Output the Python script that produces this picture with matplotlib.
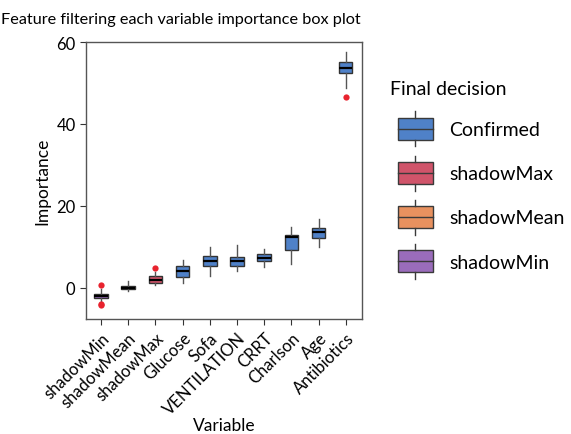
import matplotlib
matplotlib.use('Agg')
import matplotlib.pyplot as plt
from matplotlib.legend_handler import HandlerBase
from matplotlib import patches
from matplotlib.lines import Line2D

plt.rcParams['font.family'] = ['Lato', 'DejaVu Sans']

## data
variables = ['shadowMin', 'shadowMean', 'shadowMax', 'Glucose', 'Sofa',
             'VENTILATION', 'CRRT', 'Charlson', 'Age', 'Antibiotics']
decision = ['shadowMin', 'shadowMean', 'shadowMax', 'Confirmed', 'Confirmed',
            'Confirmed', 'Confirmed', 'Confirmed', 'Confirmed', 'Confirmed']
whislo = [-3.4, -0.7, 0.8, 1.1, 2.9, 4.1, 5.0, 5.9, 10.0, 48.7]
q1 = [-2.4, -0.4, 1.3, 2.6, 5.4, 5.4, 6.6, 9.2, 12.2, 52.4]
med = [-1.9, 0.05, 2.0, 4.1, 6.5, 6.5, 7.4, 12.4, 13.7, 53.6]
q3 = [-1.4, 0.55, 2.85, 5.4, 7.7, 7.45, 8.3, 12.9, 14.6, 55.2]
whishi = [-0.2, 1.7, 3.9, 6.9, 10.0, 10.5, 9.4, 14.9, 16.8, 57.5]
outliers = [[0.8, -3.9, -4.3], [], [4.8], [], [], [], [], [], [], [46.6]]

legend_order = ['Confirmed', 'shadowMax', 'shadowMean', 'shadowMin']
colors = {'Confirmed': '#4f81c8', 'shadowMax': '#d0546a',
          'shadowMean': '#e8915f', 'shadowMin': '#9a6cbb'}


## legend glyph: a little box with median line and whiskers
class BoxHandler(HandlerBase):
    def create_artists(self, legend, orig, xd, yd, w, h, fontsize, trans):
        c = orig.get_facecolor()
        bw = fontsize * 1.8
        x0 = -xd + w - bw
        yc = fontsize * 0.33
        total = fontsize * 1.8
        bh = total * 0.63
        y0 = yc - bh / 2
        rect = patches.Rectangle((x0, y0), bw, bh, facecolor=c,
                                 edgecolor='#3a3a3a', lw=1.0, transform=trans)
        mid = Line2D([x0, x0 + bw], [yc] * 2, color='#3a3a3a', lw=1.0, transform=trans)
        wt = Line2D([x0 + bw / 2] * 2, [y0 + bh, yc + total / 2], color='#3a3a3a', lw=1.0, transform=trans)
        wb = Line2D([x0 + bw / 2] * 2, [yc - total / 2, y0], color='#3a3a3a', lw=1.0, transform=trans)
        return [rect, mid, wt, wb]


fig = plt.figure(figsize=(5.71, 4.35), dpi=100)
ax = fig.add_axes([0.1506, 0.2644, 0.4834, 0.6366])

stats = []
for i in range(len(variables)):
    stats.append(dict(med=med[i], q1=q1[i], q3=q3[i], whislo=whislo[i],
                      whishi=whishi[i], fliers=outliers[i], label=variables[i]))

bp = ax.bxp(stats, positions=range(len(variables)), widths=0.5, patch_artist=True,
            boxprops=dict(edgecolor='#333333', linewidth=1.0),
            medianprops=dict(color='black', linewidth=1.6),
            whiskerprops=dict(color='#555555', linewidth=1.0),
            capprops=dict(linewidth=0),
            flierprops=dict(marker='o', markerfacecolor='#e8232e', markeredgecolor='none',
                            markersize=4.5))
for box, d in zip(bp['boxes'], decision):
    box.set_facecolor(colors[d])

ax.set_xlim(-0.55, 9.6)
ax.set_ylim(-7.6, 60)
ax.set_yticks([0, 20, 40, 60])
ax.set_xticks(range(len(variables)))
ax.set_xticklabels(variables, rotation=45, ha='right', rotation_mode='anchor')
ax.tick_params(labelsize=12, length=4, color='#333333', labelcolor='black')
for s in ax.spines.values():
    s.set_color('#555555')
    s.set_linewidth(1.0)
ax.set_ylabel('Importance', fontsize=12.5)
ax.set_xlabel('Variable', fontsize=12.5, labelpad=0)
ax.xaxis.set_label_coords(0.5, -0.355)

fig.text(0.002, 0.955, 'Feature filtering each variable importance box plot',
         fontsize=11.7, va='center', ha='left')

handles = [patches.Patch(facecolor=colors[k], label=k) for k in legend_order]
leg = fig.legend(handles=handles, title='Final decision', loc='upper left',
                 bbox_to_anchor=(0.659, 0.845), frameon=False, fontsize=14,
                 title_fontsize=14, handler_map={patches.Patch: BoxHandler()},
                 handlelength=2.21, handleheight=2.8, labelspacing=0.2,
                 handletextpad=0.85, borderaxespad=0.3)
leg._legend_box.align = 'left'
leg._legend_box.sep = 9

fig.savefig('out.png', dpi=100)
